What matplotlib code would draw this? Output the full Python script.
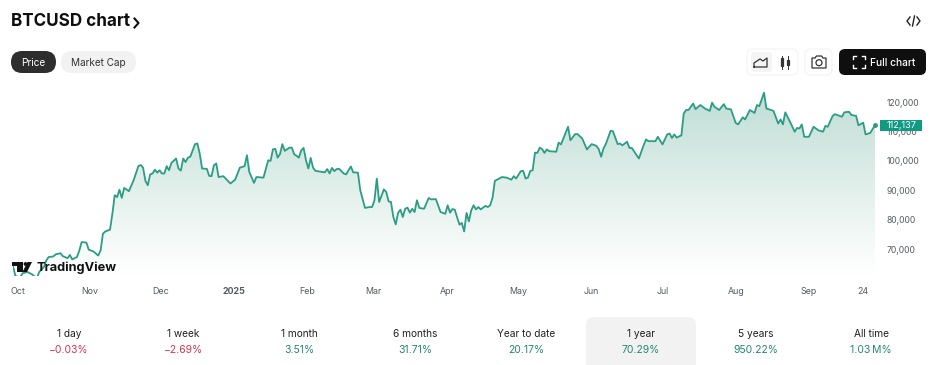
import numpy as np
import matplotlib
matplotlib.use('Agg')
import matplotlib.pyplot as plt
from matplotlib.patches import FancyBboxPatch, Polygon, Circle, Rectangle
from matplotlib.ticker import FixedLocator, FixedFormatter

plt.rcParams['font.family'] = ['Inter', 'DejaVu Sans']

# days since 2024-09-29 and BTCUSD close in thousands
days = [0, 1, 3, 4, 6, 8, 10, 11, 13, 14, 15, 17, 18, 20, 21, 23, 24, 25, 27, 28, 29,
        31, 32, 34, 36, 37, 38, 39, 41, 42, 43, 44, 45, 46, 47, 49, 51, 53, 54, 55, 56, 57, 58, 59, 60,
        61, 62, 63, 64, 65, 66, 67, 69, 70, 71, 72, 73, 74, 75, 77, 78, 79, 80, 82, 83, 84, 85, 86, 87, 89,
        92, 94, 96, 98, 99, 100, 102, 103, 106, 108, 109, 110, 111, 112, 113, 114, 115, 117, 118, 119,
        121, 122, 123, 124, 125, 126, 127, 128, 132, 133, 134, 135, 136, 137, 138, 140, 141, 143, 144, 146, 147, 149,
        151, 152, 153, 154, 155, 157, 158, 159, 160, 161, 162, 163, 164, 165, 166, 167, 168, 169, 170, 171, 172,
        174, 176, 177, 179, 181, 183, 184, 185, 186, 187, 189, 190, 191, 192, 193, 194, 195, 196, 197, 198,
        200, 201, 202, 203, 204, 207, 209,
        211, 212, 213, 215, 216, 217, 218, 219, 220, 221, 222, 223, 224, 225, 226, 227, 230, 231, 232, 235, 236,
        238, 239, 241, 243, 245, 247, 248, 249, 250, 251, 253, 254, 256, 257, 258, 260, 261, 262, 265, 267, 268, 269,
        272, 273, 275, 277, 278, 279, 280, 281, 283, 284, 285, 286, 288, 289, 291, 293, 295, 296, 297, 299,
        301, 302, 304, 306, 307, 309, 310, 312, 314, 315, 316, 318, 319, 321, 322, 324, 325, 326, 327, 329,
        331, 332, 333, 334, 335, 337, 339, 341, 343, 344, 345, 347, 348, 351, 352, 354, 355, 357, 358, 360, 361, 363, 365]
prices = [63.9, 60.7, 60.5, 61.8, 62.2, 61.4, 60.1, 62.2, 63.9, 66.1, 67.3, 67.5, 68.2, 68.6, 67.6, 66.9, 68.0, 66.5, 67.3, 69.5, 72.4,
          72.2, 69.8, 69.2, 67.8, 69.5, 75.2, 76.0, 76.6, 82.0, 88.3, 87.7, 90.2, 87.4, 90.8, 89.7, 93.4, 98.2, 98.6, 97.7, 93.2, 91.7, 95.4, 95.7, 97.0,
          96.0, 96.8, 95.7, 95.7, 98.2, 96.8, 99.3, 100.8, 97.4, 96.7, 100.8, 99.6, 101.1, 101.4, 105.7, 105.9, 102.5, 97.4, 97.3, 94.9, 94.8, 98.5, 99.1, 94.5, 94.8,
          92.3, 93.6, 97.7, 98.2, 101.9, 96.2, 92.5, 94.5, 94.3, 100.2, 100.0, 103.9, 104.1, 101.1, 102.3, 105.7, 103.4, 104.5, 104.5, 102.3,
          101.1, 103.6, 104.4, 100.2, 97.4, 101.0, 97.7, 96.6, 96.1, 97.2, 95.7, 97.6, 96.5, 97.2, 97.3, 95.7, 95.4, 98.1, 96.1, 96.0, 90.0, 84.0,
          84.3, 84.3, 86.6, 94.0, 86.0, 90.3, 89.4, 86.2, 86.0, 80.9, 78.4, 82.3, 83.4, 80.9, 83.7, 84.1, 82.4, 83.7, 82.6, 86.6, 84.0,
          83.7, 87.4, 86.9, 87.0, 82.6, 82.0, 84.9, 82.4, 83.6, 83.4, 78.3, 78.9, 76.0, 82.3, 79.4, 83.2, 84.9, 83.5, 84.3, 83.5,
          84.7, 84.3, 84.9, 87.4, 93.2, 94.5, 94.3,
          93.6, 94.8, 94.0, 96.5, 96.6, 94.0, 94.3, 96.6, 96.8, 102.8, 102.7, 104.5, 104.0, 102.7, 103.9, 103.3, 103.1, 106.2, 105.6, 111.6, 107.0,
          109.1, 109.1, 107.6, 103.9, 105.7, 105.1, 104.0, 101.4, 104.2, 105.7, 110.2, 110.1, 105.7, 105.9, 105.3, 106.5, 104.4, 104.4, 100.8, 105.3, 107.3, 106.7,
          106.7, 108.2, 105.6, 109.0, 109.3, 107.8, 109.0, 107.9, 108.7, 116.1, 117.3, 117.3, 119.5, 117.6, 119.0, 117.8, 117.0, 119.8, 118.4, 117.3,
          119.3, 117.8, 117.5, 112.9, 112.4, 114.8, 114.1, 117.3, 116.3, 119.0, 118.6, 123.2, 117.8, 117.3, 117.0, 112.7, 114.1, 112.4, 116.5, 113.3,
          109.9, 111.2, 111.0, 112.4, 108.2, 108.2, 111.6, 110.4, 109.9, 111.9, 111.6, 115.2, 115.9, 115.0, 116.5, 116.7, 115.6, 115.3, 112.1, 113.0, 109.0, 109.5, 112.137]
last_label = '112,137'

xtick_days = [2, 32.5, 62.5, 93.5, 124.5, 152.5, 184, 214, 245, 275, 306, 337, 360]
xtick_labels = ['Oct', 'Nov', 'Dec', '2025', 'Feb', 'Mar', 'Apr', 'May', 'Jun', 'Jul', 'Aug', 'Sep', '24']
ytick_vals = [70, 80, 90, 100, 110, 120]
ytick_labels = ['70,000', '80,000', '90,000', '100,000', '110,000', '120,000']

periods = ['1 day', '1 week', '1 month', '6 months', 'Year to date', '1 year', '5 years', 'All time']
changes = ['\u22120.03%', '\u22122.69%', '3.51%', '31.71%', '20.17%', '70.29%', '950.22%', '1.03\u2009M%']
period_x = [69, 183, 299, 415, 526, 641, 756, 871]

GREEN = '#2a9d84'
W, H = 931, 365

fig = plt.figure(figsize=(W / 100, H / 100), dpi=100, facecolor='white')


def px_rect(x0, y0, x1, y1):
    return [x0 / W, 1 - y1 / H, (x1 - x0) / W, (y1 - y0) / H]


# price pane
ax = fig.add_axes(px_rect(13.2, 90, 875, 276))
ax.set_xlim(0, 365)
ax.set_ylim(60.85, 124.1)
for s in ax.spines.values():
    s.set_visible(False)

poly = ax.fill_between(days, prices, 60.85, color='none')
grad = np.linspace(1, 0, 256).reshape(-1, 1, 1) ** 1.05
rgba = np.ones((256, 1, 4))
rgba[..., 0] = 1 - grad[..., 0] * (1 - 190 / 255)
rgba[..., 1] = 1 - grad[..., 0] * (1 - 221 / 255)
rgba[..., 2] = 1 - grad[..., 0] * (1 - 212 / 255)
im = ax.imshow(rgba, extent=[0, 365, 60.85, 124.1], aspect='auto', origin='upper', zorder=1)
im.set_clip_path(poly.get_paths()[0], ax.transData)

ax.plot(days, prices, color=GREEN, lw=1.3, zorder=2, solid_joinstyle='round')
ax.plot(days[-1], prices[-1], 'o', color=GREEN, ms=2.5, zorder=3, clip_on=False)

ax.yaxis.tick_right()
ax.yaxis.set_major_locator(FixedLocator(ytick_vals))
ax.yaxis.set_major_formatter(FixedFormatter(ytick_labels))
ax.xaxis.set_major_locator(FixedLocator(xtick_days))
ax.xaxis.set_major_formatter(FixedFormatter(xtick_labels))
ax.tick_params(axis='y', length=0, pad=8.6, labelsize=6.2, labelcolor='#555a63')
ax.tick_params(axis='x', length=0, pad=7.8, labelsize=6.4, labelcolor='#555a63')
for lab in ax.get_yticklabels():
    lab.set_ha('left')
ax.get_xticklabels()[3].set_fontweight('bold')

# everything around the chart, in pixels
ui = fig.add_axes([0, 0, 1, 1], zorder=5)
ui.set_xlim(0, W)
ui.set_ylim(H, 0)
ui.axis('off')
ui.patch.set_alpha(0)


def box(x0, y0, x1, y1, color, r=6, ec='none', lw=0.8):
    ui.add_patch(FancyBboxPatch((x0 + r, y0 + r), x1 - x0 - 2 * r, y1 - y0 - 2 * r,
                                boxstyle='round,pad=%g,rounding_size=%g' % (r, r),
                                fc=color, ec=ec, lw=lw))


ui.text(11, 21.5, 'BTCUSD chart', fontsize=12.3, fontweight='bold', color='#0f0f0f', va='center')
ui.plot([134.5, 138.5, 134.5], [18.5, 23, 27.5], color='#0f0f0f', lw=1.5)

box(11, 51, 56, 73, '#2e2e2e', r=11)
ui.text(33.5, 62.8, 'Price', fontsize=7.3, color='white', ha='center', va='center')
box(61, 51, 136, 73, '#f2f2f2', r=11)
ui.text(98.5, 62.8, 'Market Cap', fontsize=7.2, color='#333333', ha='center', va='center')

# code icon
ui.plot([910, 907, 910], [17, 21, 25], color='#222222', lw=1)
ui.plot([917, 920, 917], [17, 21, 25], color='#222222', lw=1)
ui.plot([914.5, 912.5], [16, 26], color='#222222', lw=1)

# chart type buttons
box(747, 49, 798, 75, 'white', r=6, ec='#f3f3f3')
box(751, 52, 772, 72, '#f4f4f4', r=4)
ui.plot([754, 754, 760, 763, 767, 767, 754], [67, 63, 59, 61, 58, 67, 67], color='#333333', lw=0.9)
ui.plot([782, 782], [56, 69], color='#333333', lw=0.7)
ui.add_patch(Rectangle((781, 58), 2.2, 8, fc='white', ec='#333333', lw=0.9))
ui.plot([788, 788], [56, 69], color='#333333', lw=0.7)
ui.add_patch(Rectangle((787, 60), 2.2, 5, fc='#333333', ec='#333333', lw=0.9))

# camera button
box(805, 49, 832, 75, 'white', r=6, ec='#f3f3f3')
ui.add_patch(Polygon([(812, 58), (815, 58), (816.5, 56), (821.5, 56), (823, 58), (826, 58),
                      (826, 68), (812, 68)], closed=True, fc='none', ec='#333333', lw=0.9))
ui.add_patch(Circle((819, 62.7), 3, fc='none', ec='#333333', lw=0.9))

# full chart button
box(839, 49, 926, 75, '#0f0f0f', r=6)
ui.text(893, 63, 'Full chart', fontsize=7.3, fontweight='medium', color='white', ha='center', va='center')
for sx, sy in [(853, 56), (865, 56), (853, 68), (865, 68)]:
    dx = 3 if sx < 860 else -3
    dy = 3 if sy < 60 else -3
    ui.plot([sx + dx, sx, sx], [sy, sy, sy + dy], color='white', lw=1)

# last price tag
ui.add_patch(Rectangle((880, 120), 42, 11, fc='#0f9b82', ec='none'))
ui.text(901.5, 125.5, last_label, fontsize=6.6, color='white', ha='center', va='center')

# TradingView logo
ui.add_patch(Polygon([(12, 262), (23, 262), (23, 272), (17, 272), (17, 266), (12, 266)], fc='#111111', ec='none'))
ui.add_patch(Circle((25.5, 264), 1.9, fc='#111111', ec='none'))
ui.add_patch(Polygon([(27.5, 262), (32, 262), (27, 272), (22.5, 272)], fc='#111111', ec='none'))
ui.text(36.5, 267.5, 'TradingView', fontsize=9.2, fontweight='bold', color='#111111', va='center')

# period row
box(586, 317, 696, 372, '#f2f2f2', r=8)
for name, chg, x in zip(periods, changes, period_x):
    col = '#d5354f' if chg.startswith('\u2212') else '#23896f'
    ui.text(x, 333.8, name, fontsize=7.3, color='#222222', ha='center', va='center')
    ui.text(x, 349.8, chg, fontsize=7.5, color=col, ha='center', va='center')

fig.savefig('out.png', dpi=100)
